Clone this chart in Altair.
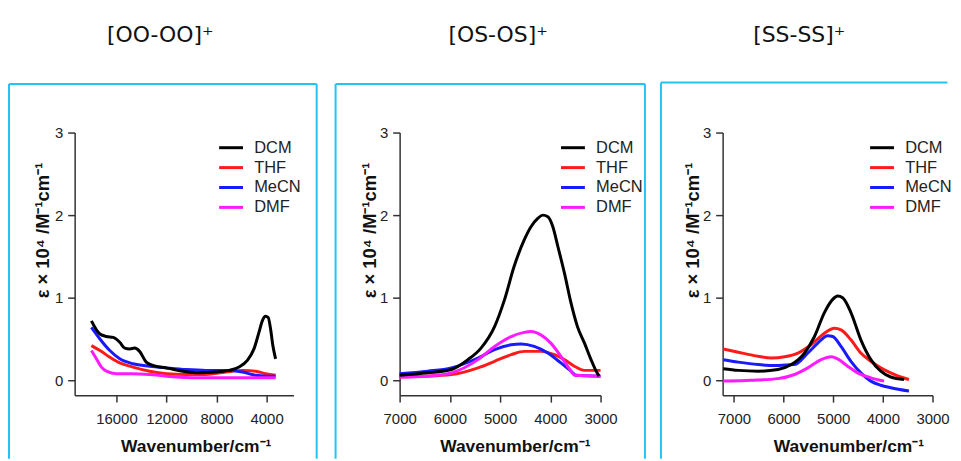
import altair as alt
import pandas as pd

# ---------------- data ----------------
solvents = ["DCM", "THF", "MeCN", "DMF"]
colors = ["#000000", "#FF1A1A", "#1A1AFF", "#FF1AFF"]
panel_titles = ["[OO-OO]\u207a", "[OS-OS]\u207a", "[SS-SS]\u207a"]
y_ticks = [0, 1, 2, 3]
x_ticks_oo = [16000, 12000, 8000, 4000]
x_ticks_os = [7000, 6000, 5000, 4000, 3000]
x_ticks_ss = [7000, 6000, 5000, 4000, 3000]

# [OO-OO]+
oo_dcm_x = [18000, 17320, 16800, 16260, 15735, 15340, 14940, 14540, 14150, 13620, 13090, 12000, 10700,
            9380, 8050, 7000, 6200, 5540, 5010, 4610, 4340, 4080, 3870, 3680, 3500, 3280]
oo_dcm_y = [0.72, 0.56, 0.53, 0.52, 0.46, 0.39, 0.38, 0.39, 0.35, 0.22, 0.18, 0.15, 0.11,
            0.09, 0.10, 0.12, 0.16, 0.24, 0.38, 0.58, 0.72, 0.775, 0.76, 0.62, 0.42, 0.26]
oo_thf_x = [18000, 17320, 16530, 15735, 14680, 13350, 12000, 10440, 8850, 7260, 5930, 4870, 4080, 3280]
oo_thf_y = [0.42, 0.36, 0.28, 0.21, 0.16, 0.11, 0.08, 0.07, 0.07, 0.10, 0.12, 0.11, 0.08, 0.06]
oo_mecn_x = [18000, 17320, 16530, 15735, 14680, 13350, 12000, 10440, 8850, 7260, 5930, 4870, 4080, 3280]
oo_mecn_y = [0.64, 0.50, 0.36, 0.26, 0.20, 0.17, 0.15, 0.13, 0.12, 0.12, 0.10, 0.06, 0.05, 0.05]
oo_dmf_x = [18000, 17600, 17200, 16800, 16000, 14680, 13350, 12000, 9380, 6730, 4080, 3280]
oo_dmf_y = [0.36, 0.26, 0.16, 0.11, 0.08, 0.08, 0.07, 0.05, 0.03, 0.03, 0.03, 0.03]

# [OS-OS]+
os_dcm_x = [7000, 6440, 5970, 5640, 5380, 5110, 4910, 4720, 4520, 4385, 4250, 4150, 4050, 3950,
            3850, 3720, 3590, 3460, 3320, 3190, 3070, 3030]
os_dcm_y = [0.06, 0.09, 0.13, 0.25, 0.39, 0.65, 0.98, 1.38, 1.70, 1.86, 1.96, 2.00, 1.98, 1.86,
            1.62, 1.30, 0.94, 0.65, 0.45, 0.25, 0.09, 0.05]
os_thf_x = [7000, 5970, 5440, 5110, 4780, 4520, 4190, 3920, 3720, 3520, 3320, 3000]
os_thf_y = [0.04, 0.07, 0.15, 0.23, 0.31, 0.35, 0.35, 0.31, 0.25, 0.17, 0.12, 0.12]
os_mecn_x = [7000, 6440, 5970, 5440, 5110, 4780, 4580, 4320, 4050, 3790, 3590, 3490, 3000]
os_mecn_y = [0.08, 0.11, 0.15, 0.27, 0.37, 0.43, 0.44, 0.41, 0.33, 0.21, 0.11, 0.06, 0.05]
os_dmf_x = [7000, 6440, 5970, 5440, 5110, 4780, 4520, 4385, 4190, 3990, 3790, 3620, 3510, 3000]
os_dmf_y = [0.04, 0.05, 0.09, 0.25, 0.41, 0.53, 0.58, 0.59, 0.55, 0.45, 0.29, 0.14, 0.06, 0.05]

# [SS-SS]+
ss_dcm_x = [7214, 6913, 6512, 6112, 5845, 5578, 5377, 5177, 5010, 4910, 4810, 4643, 4443, 4242,
            4042, 3842, 3575]
ss_dcm_y = [0.14, 0.12, 0.11, 0.13, 0.19, 0.33, 0.53, 0.82, 0.98, 1.02, 1.00, 0.82, 0.49, 0.25,
            0.11, 0.04, 0.01]
ss_thf_x = [7214, 6913, 6512, 6245, 5978, 5711, 5444, 5177, 4977, 4843, 4643, 4443, 4242, 4042,
            3842, 3642, 3474]
ss_thf_y = [0.38, 0.34, 0.29, 0.27, 0.285, 0.33, 0.43, 0.57, 0.63, 0.61, 0.49, 0.33, 0.23, 0.15,
            0.09, 0.04, 0.01]
ss_mecn_x = [7214, 6913, 6512, 6112, 5778, 5511, 5310, 5110, 5010, 4843, 4643, 4443, 4242, 4042,
             3842, 3474]
ss_mecn_y = [0.25, 0.22, 0.19, 0.18, 0.19, 0.33, 0.45, 0.54, 0.53, 0.41, 0.23, 0.09, -0.01, -0.06,
             -0.09, -0.13]
ss_dmf_x = [7214, 6646, 6112, 5778, 5511, 5244, 5043, 4910, 4710, 4509, 4242, 3975]
ss_dmf_y = [-0.01, 0.0, 0.02, 0.07, 0.15, 0.25, 0.285, 0.26, 0.17, 0.09, 0.03, -0.01]


def frame(series):
    rows = []
    for name, xs, ys in series:
        for x, y in zip(xs, ys):
            rows.append({"solvent": name, "wn": x, "eps": y})
    return pd.DataFrame(rows)


df_oo = frame([("THF", oo_thf_x, oo_thf_y), ("MeCN", oo_mecn_x, oo_mecn_y),
               ("DMF", oo_dmf_x, oo_dmf_y), ("DCM", oo_dcm_x, oo_dcm_y)])
df_os = frame([("THF", os_thf_x, os_thf_y), ("MeCN", os_mecn_x, os_mecn_y),
               ("DMF", os_dmf_x, os_dmf_y), ("DCM", os_dcm_x, os_dcm_y)])
df_ss = frame([("THF", ss_thf_x, ss_thf_y), ("MeCN", ss_mecn_x, ss_mecn_y),
               ("DMF", ss_dmf_x, ss_dmf_y), ("DCM", ss_dcm_x, ss_dcm_y)])

# ---------------- styling ----------------
CYAN = "#22C3F5"
AXIS_COLOR = "#333333"
TEXT_COLOR = "#222222"
one = pd.DataFrame({"k": [0]})
H = 264


def panel(df, title, xdomain, xticks, width, xrange, legend_x, title_x, ytitle_x, ytitle_y,
          xtitle_x, box, right_edge=True):
    xscale = dict(domain=xdomain, reverse=True, nice=False, zero=False)
    if xrange is not None:
        xscale["range"] = xrange
    lines = alt.Chart(df).mark_line(strokeWidth=3, interpolate="monotone").encode(
        x=alt.X("wn:Q", scale=alt.Scale(**xscale),
                axis=alt.Axis(values=xticks, format="d", title="Wavenumber/cm\u207b\u00b9",
                              titleX=xtitle_x, titleY=57, titleBaseline="alphabetic",
                              titleAlign="center", labelPadding=10, titleFontSize=17.5,
                              labelFlush=False, labelOverlap=False)),
        y=alt.Y("eps:Q", scale=alt.Scale(domain=[-0.18, 3], nice=False, zero=False),
                axis=alt.Axis(values=y_ticks, title="\u03b5 \u00d7 10\u2074 /M\u207b\u00b9cm\u207b\u00b9",
                              titleX=ytitle_x, titleY=ytitle_y, titleAngle=270,
                              titleAlign="center", titleBaseline="middle", labelPadding=5,
                              titleFontSize=18.5, labelFlush=False)),
        color=alt.Color("solvent:N", scale=alt.Scale(domain=solvents, range=colors),
                        legend=alt.Legend(orient="none", legendX=legend_x, legendY=7, title=None,
                                          symbolType="M-2,0H2", symbolSize=144,
                                          symbolStrokeWidth=3, labelFontSize=16.5,
                                          labelOffset=15, rowPadding=3, padding=0,
                                          labelColor=TEXT_COLOR, labelFont="Liberation Sans")),
    )
    l, r, t, b = box
    layers = [lines]
    rule = alt.Chart(one).mark_rule(color=CYAN, strokeWidth=2)
    layers.append(rule.encode(x=alt.value(l), x2=alt.value(r), y=alt.value(t)))
    layers.append(rule.encode(x=alt.value(l), y=alt.value(t), y2=alt.value(b)))
    if right_edge:
        layers.append(rule.encode(x=alt.value(r), y=alt.value(t), y2=alt.value(b)))
    # invisible anchor for top of the page
    layers.append(alt.Chart(one).mark_rule(opacity=0).encode(
        x=alt.value(0), x2=alt.value(1), y=alt.value(-124)))
    layers.append(alt.Chart(one).mark_text(font="DejaVu Sans", fontSize=22, color="#111111",
                                           align="center", baseline="middle").encode(
        x=alt.value(title_x), y=alt.value(-98), text=alt.value(title)))
    return alt.layer(*layers).properties(width=width, height=H)


p1 = panel(df_oo, panel_titles[0], [1850, 19340], x_ticks_oo, 220, None, 149, 86,
           -32.5, 98, 121.7, (-66, 243.3, -48.7, 328))
p2 = panel(df_os, panel_titles[1], [3000, 7000], x_ticks_os, 217.6, [0, 202], 166, 99,
           -30, 98, 115.8, (-64.4, 246.6, -48.7, 328))
p3 = panel(df_ss, panel_titles[2], [3000, 7227], x_ticks_ss, 211, None, 152, 77,
           -30, 98, 126.5, (-62, 226, -50.3, 328), right_edge=False)

chart = alt.hconcat(p1, p2, p3, spacing=106.7, bounds="flush").resolve_legend(
    color="independent").properties(padding=0).configure_view(stroke=None).configure_axis(
    domainColor=AXIS_COLOR, domainWidth=1.5, tickColor=AXIS_COLOR, tickWidth=1.5, tickSize=7,
    labelFont="Liberation Sans", labelFontSize=15, labelColor=TEXT_COLOR,
    titleFont="Liberation Sans", titleFontWeight="bold", titleColor="#111111",
    grid=False)

chart.save("out.html", embed_options={"renderer": "svg", "actions": False})
